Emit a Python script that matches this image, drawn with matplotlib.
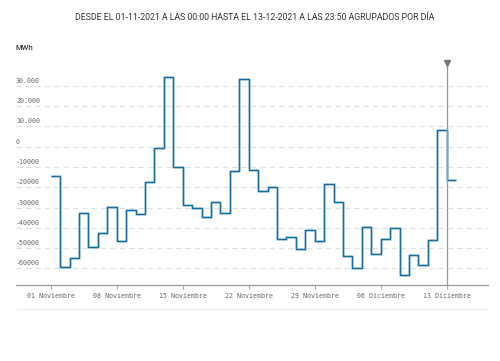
import matplotlib
matplotlib.use("Agg")
import matplotlib.pyplot as plt
import matplotlib.dates as mdates
import matplotlib.transforms as mtransforms
import numpy as np
import pandas as pd

# ---- data ----
dates = pd.date_range("2021-11-01", "2021-12-13", freq="D")
values = [
    -14400, -59500, -54700, -32800, -49600, -42700, -29500, -46300, -31200, -33200,
    -17400, -500, 34600, -9800, -28900, -30000, -34500, -27100, -32500, -12100,
    33600, -11400, -21600, -19700, -45700, -44300, -50400, -41100, -46300, -18400,
    -27200, -53700, -59600, -39700, -52900, -45300, -40200, -63100, -53200, -58200,
    -46000, 8100, -16500,
]
ytick_vals = [30000, 20000, 10000, 0, -10000, -20000, -30000, -40000, -50000, -60000]
ytick_labels = ["30.000", "20.000", "10.000", "0", "-10000", "-20000", "-30000",
                "-40000", "-50000", "-60000"]
xtick_dates = pd.to_datetime(["2021-11-01", "2021-11-08", "2021-11-15", "2021-11-22",
                              "2021-11-29", "2021-12-06", "2021-12-13"])
xtick_labels = ["01 Noviembre", "08 Noviembre", "15 Noviembre", "22 Noviembre",
                "29 Noviembre", "06 Diciembre", "13 Diciembre"]
title = "DESDE EL 01-11-2021 A LAS 00:00 HASTA EL 13-12-2021 A LAS 23:50 AGRUPADOS POR DÍA"
unit = "MWh"
marker_date = pd.Timestamp("2021-12-13")

W, H = 500, 361
fig = plt.figure(figsize=(W / 100, H / 100), dpi=100)
ax_l, ax_r, ax_b, ax_t = 16, 488, 285, 60
ax = fig.add_axes([ax_l / W, 1 - ax_b / H, (ax_r - ax_l) / W, (ax_b - ax_t) / H])

x0 = mdates.date2num(dates[0])
px_per_day = 9.43
left_day = (ax_l - 50.7) / px_per_day
right_day = (ax_r - 50.7) / px_per_day
ax.set_xlim(x0 + left_day, x0 + right_day)
ax.set_ylim(-68200, 42800)

edges = mdates.date2num(list(dates) + [dates[-1] + pd.Timedelta(days=1)])
ax.stairs(values, edges, color="#b7d6e8", lw=1.8, baseline=None, zorder=3)
ax.stairs(values, edges, color="#1a6c9c", lw=1.0, baseline=None, zorder=4)

# grid
for v in ytick_vals:
    ax.axhline(v, color="#e1e1e1", lw=0.9, dashes=(4.5, 3), zorder=1)

ax.set_yticks(ytick_vals)
ax.set_yticklabels(ytick_labels)
ax.tick_params(axis="y", length=0, pad=0, labelsize=4.8, labelcolor="#666666")
off = mtransforms.ScaledTranslation(0, 2 / 100, fig.dpi_scale_trans)
for lab in ax.get_yticklabels():
    lab.set_horizontalalignment("left")
    lab.set_verticalalignment("bottom")
    lab.set_fontfamily("DejaVu Sans Mono")
    lab.set_transform(lab.get_transform() + off)

ax.set_xticks(mdates.date2num(xtick_dates))
ax.set_xticklabels(xtick_labels, fontfamily="DejaVu Sans Mono")
ax.tick_params(axis="x", length=3, width=0.8, color="#aaaaaa", pad=3,
               labelsize=4.8, labelcolor="#666666")

for s in ["top", "right", "left"]:
    ax.spines[s].set_visible(False)
ax.spines["bottom"].set_color("#999999")
ax.spines["bottom"].set_linewidth(0.9)

# current-day marker
mx = mdates.date2num(marker_date)
ax.axvline(mx, ymin=0, ymax=(ax_b - 63) / (ax_b - ax_t), color="#9a9a9a", lw=0.9, zorder=5)
ax.plot([mx], [1 - 2.5 / (ax_b - ax_t)], marker="v", color="#777777", markersize=5,
        transform=ax.get_xaxis_transform(), clip_on=False, zorder=6)

fig.text(255 / W, 1 - 18 / H, title, ha="center", va="center", fontsize=6.3,
         color="#333333", family="Roboto")
fig.text(16 / W, 1 - 48 / H, unit, ha="left", va="center", fontsize=5.5,
         color="#333333", family="Roboto", fontweight="medium")
fig.add_artist(plt.Line2D([17 / W, 488 / W], [1 - 309 / H, 1 - 309 / H],
                          color="#eeeeee", lw=0.9, transform=fig.transFigure))

fig.savefig("out.png", dpi=100)
